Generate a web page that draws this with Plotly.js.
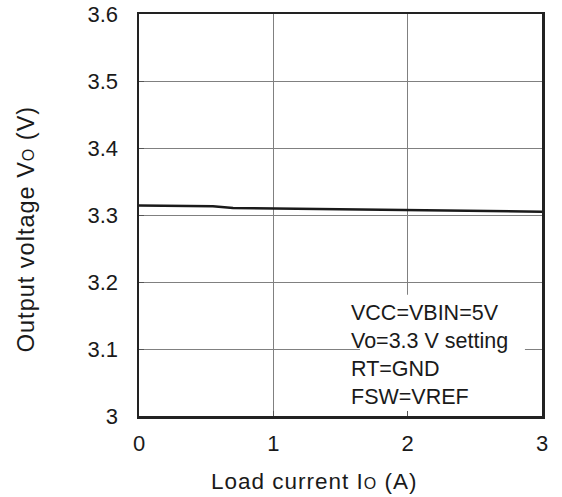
<!DOCTYPE html>
<html><head><meta charset="utf-8">
<script src="https://cdn.plot.ly/plotly-3.0.1.min.js"></script>
<style>body{margin:0;background:#fff}#chart{width:562px;height:497px}</style>
</head><body><div id="chart"></div>
<script>
const loadCurrent = [0, 0.3, 0.55, 0.7, 1.0, 1.5, 2.0, 2.5, 3.0];
const outputVoltage = [3.314, 3.3138, 3.3132, 3.3105, 3.3097, 3.3085, 3.3072, 3.306, 3.305];
const xTicks = [0, 1, 2, 3];
const yTicks = [3, 3.1, 3.2, 3.3, 3.4, 3.5, 3.6];
const yTickLabels = ['3', '3.1', '3.2', '3.3', '3.4', '3.5', '3.6'];
const noteLines = ['VCC=VBIN=5V', 'Vo=3.3 V setting', 'RT=GND', 'FSW=VREF'];
const xTitle = 'Load current I<span style="font-size:16px">O</span> (A)';
const yTitle = 'Output voltage V<span style="font-size:16px">O</span> (V)';

const fam = 'Liberation Sans, Arial, sans-serif';
const ink = '#1a1a1a';
Plotly.newPlot('chart', [{
  x: loadCurrent, y: outputVoltage, mode: 'lines', type: 'scatter',
  line: {color: ink, width: 2.5}, hoverinfo: 'skip', showlegend: false
}], {
  width: 562, height: 497,
  margin: {l: 139, r: 20, t: 14, b: 81},
  paper_bgcolor: '#fff', plot_bgcolor: '#fff',
  font: {family: fam, size: 22, color: ink},
  xaxis: {
    range: [0, 3], tickvals: xTicks, ticktext: xTicks.map(String),
    showgrid: true, gridcolor: '#808080', gridwidth: 1, zeroline: false,
    showline: true, linecolor: '#222', linewidth: 2.5, mirror: true,
    ticks: 'inside', ticklen: 5, tickcolor: '#555',
    tickfont: {size: 22}, ticklabelstandoff: 6
  },
  yaxis: {
    range: [3, 3.6], tickvals: yTicks, ticktext: yTickLabels,
    showgrid: true, gridcolor: '#808080', gridwidth: 1, zeroline: false,
    showline: true, linecolor: '#222', linewidth: 2.5, mirror: true,
    ticks: 'inside', ticklen: 5, tickcolor: '#555',
    tickfont: {size: 22}, ticklabelstandoff: 14
  },
  shapes: [{
    type: 'rect', xref: 'x', yref: 'y', layer: 'between',
    x0: 1.645, x1: 2.873, y0: 3.006, y1: 3.181,
    fillcolor: '#fff', line: {width: 0}
  }],
  annotations: [{
    xref: 'x', yref: 'y', x: 1.56, y: 3.0915, xanchor: 'left', yanchor: 'middle',
    align: 'left', showarrow: false,
    text: noteLines.join('<br>'),
    font: {size: 21.5, color: ink, family: fam}
  }, {
    xref: 'paper', yref: 'paper', x: 0.4355, y: -0.162, xanchor: 'center', yanchor: 'middle',
    showarrow: false,
    text: '<span style="letter-spacing:1px">' + xTitle + '</span>',
    font: {size: 22.5, color: ink, family: fam}
  }, {
    xref: 'paper', yref: 'paper', x: -0.28, y: 0.465, xanchor: 'center', yanchor: 'middle',
    showarrow: false, textangle: -90,
    text: '<span style="letter-spacing:1px">' + yTitle + '</span>',
    font: {size: 23.5, color: ink, family: fam}
  }]
}, {displayModeBar: false, staticPlot: true});
</script></body></html>
